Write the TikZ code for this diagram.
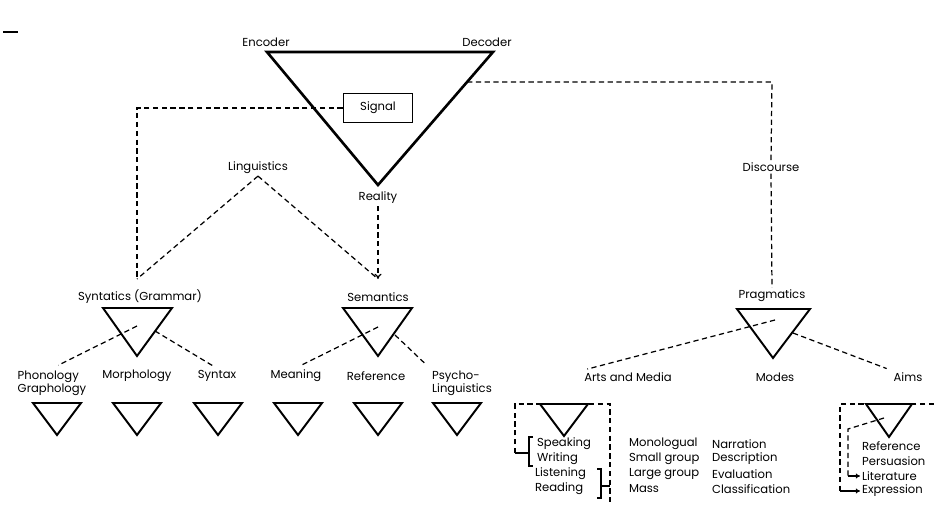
\documentclass[tikz,border=0pt]{standalone}
\usepackage{fontspec}
\setmainfont{Poppins}
\usetikzlibrary{arrows.meta}

\begin{document}
\begin{tikzpicture}[x=0.02cm,y=-0.02cm,
  lab/.style={font=\fontsize{6.6}{7.6}\selectfont, inner sep=1pt},
  conn/.style={dash pattern=on 3pt off 2pt, line width=0.7pt},
  brk/.style={line width=0.6pt},
  bigtri/.style={line width=1.5pt, line join=miter},
  tri/.style={line width=1.1pt, line join=miter}]
\useasboundingbox (0,0) rectangle (934,507);

\draw[line width=1pt] (3,32) -- (18,32);

% the large triangle
\draw[bigtri] (267,52) coordinate(enc) -- (493,52) coordinate(dec)
  -- (378,185) coordinate(real) -- cycle;
\node[lab] (encoder) at (266,42) {Encoder};
\node[lab] (decoder) at (487,42) {Decoder};
\node[lab, draw, line width=1pt, minimum width=1.38cm, minimum height=0.58cm]
  (signal) at (378,108) {Signal};
\node[lab] (reality) at (378,198) {Reality};
\node[lab] (ling) at (258,168) {Linguistics};
\node[lab] (disc) at (771,167) {Discourse};

% second level
\node[lab] (synt) at (140,297) {Syntatics (Grammar)};
\node[lab] (sem) at (378,297) {Semantics};
\node[lab] (prag) at (772,296) {Pragmatics};
\coordinate (synttop) at (137,279);
\coordinate (semtop) at (378,279);
\coordinate (rside) at (467,82);
\coordinate (rturn) at (772,82);

\draw[conn] (signal.west) -| (synttop);
\draw[conn] (ling.south) -- (synttop);
\draw[conn] (ling.south) -- (semtop);
\draw[conn, -{To[length=3pt,width=4pt]}] (reality.south) -- (semtop);
\draw[conn] (rside) -- (rturn) -- (disc.north);
\draw[conn] (disc.south) -- (prag.north);

\draw[tri] (103,308) -- (172,308) -- (137,356) -- cycle;
\draw[tri] (343,308) -- (412,308) -- (378,356) -- cycle;
\draw[tri] (737,309) -- (810,309) -- (773,358) -- cycle;
\coordinate (syntin) at (137,326);
\coordinate (syntr) at (155,331);
\coordinate (semin) at (378,327);
\coordinate (semr) at (395,335);
\coordinate (pragin) at (775,320);
\coordinate (pragr) at (793,333);

% third level
\node[lab, align=left] (phon) at (52,383) {Phonology\\Graphology};
\node[lab] (morph) at (137,376) {Morphology};
\node[lab] (syntax) at (217,376) {Syntax};
\node[lab] (mean) at (296,376) {Meaning};
\node[lab] (ref) at (376,376) {Reference};
\node[lab, align=left] (psy) at (462,383) {Psycho-\\Linguistics};
\node[lab] (arts) at (628,377) {Arts and Media};
\node[lab] (modes) at (775,377) {Modes};
\node[lab] (aims) at (908,377) {Aims};

\draw[conn, shorten >=4pt] (syntin) -- (phon.north);
\draw[conn, shorten >=3pt] (syntr) -- (syntax.north);
\draw[conn, shorten >=3pt] (semin) -- (mean.north);
\draw[conn, shorten >=3pt] (semr) -- (psy.north west);
\draw[conn, shorten >=3pt] (pragin) -- (arts.north west);
\draw[conn, shorten >=3pt] (pragr) -- (aims.north west);

\foreach \cx in {57,137,218,298,378,457}
  \draw[tri] (\cx-24,403) -- (\cx+24,403) -- (\cx,435) -- cycle;

% arts and media
\draw[conn] (515,453) -- (515,404) -- (610,404) -- (610,505);
\draw[brk] (515,453) -- (529,453);
\draw[brk] (533,437) -- (529,437) -- (529,466) -- (533,466);
\draw[brk] (597,469) -- (601,469) -- (601,498) -- (597,498);
\draw[brk] (601,486) -- (610,486);
\draw[tri] (540,404) -- (588,404) -- (564,436) -- cycle;
\node[lab, anchor=west] (speak) at (535,444) {Speaking};
\node[lab, anchor=west] (write) at (535,459) {Writing};
\node[lab, anchor=west] (listen) at (533,474) {Listening};
\node[lab, anchor=west] (read) at (533,489) {Reading};
\node[lab, anchor=west] (mono) at (627,444) {Monologual};
\node[lab, anchor=west] (small) at (627,459) {Small group};
\node[lab, anchor=west] (large) at (627,474) {Large group};
\node[lab, anchor=west] (mass) at (627,489) {Mass};

% modes
\node[lab, anchor=west] (narr) at (710,444) {Narration};
\node[lab, anchor=west] (descr) at (710,459) {Description};
\node[lab, anchor=west] (eval) at (710,474) {Evaluation};
\node[lab, anchor=west] (class) at (710,489) {Classification};

% aims
\draw[conn] (934,404) -- (840,404) -- (840,491);
\draw[tri] (866,404) -- (912,404) -- (889,437) -- cycle;
\node[lab, anchor=west] (aref) at (860,446) {Reference};
\node[lab, anchor=west] (pers) at (860,461) {Persuasion};
\node[lab, anchor=west] (lit) at (860,476) {Literature};
\node[lab, anchor=west] (expr) at (860,491) {Expression};
\coordinate (aimsin) at (884,418);
\draw[conn] (aimsin) -- (848,429) -- (848,476);
\draw[brk, -{To[length=2.5pt,width=3pt]}] (848,476) -- (lit.west);
\draw[brk, -{To[length=2.5pt,width=3pt]}] (840,491) -- (expr.west);
\end{tikzpicture}
\end{document}
